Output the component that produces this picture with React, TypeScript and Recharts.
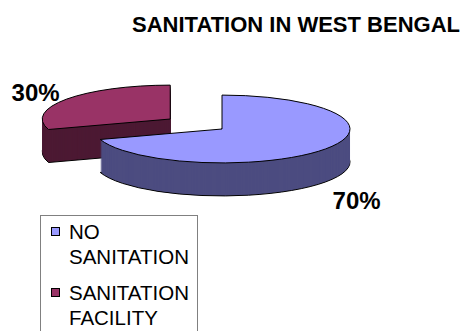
import { PieChart, Pie, Cell, Legend } from "recharts"

const categories = ["NO SANITATION", "SANITATION FACILITY"]
const shares = [70, 30]
const topColors = ["#9999FF", "#993366"]
const sideColors = ["#4C4C80", "#4C1933"]
const explode = [0, 64] // how far each slice is pulled out

const data = categories.map((name, i) => ({ name, value: shares[i] }))
const total = shares.reduce((a, b) => a + b, 0)

// fake 3D: pies are drawn round, then squashed by css, and stacked for the side wall
const SQUASH = 0.265
const RADIUS = 128
const DEPTH = 33
const CX = 222
const CY = 129 / SQUASH
const FONT = "'Liberation Sans', Arial, sans-serif"

// mid angle of every slice (recharts degrees), clockwise from 12 o'clock
let run = 0
const midAngles = shares.map((v) => {
  const start = 90 - (run / total) * 360
  run += v
  const end = 90 - (run / total) * 360
  return (start + end) / 2
})

const centerOf = (i: number) => {
  const rad = (midAngles[i] * Math.PI) / 180
  return { x: CX + explode[i] * Math.cos(rad), y: CY - explode[i] * Math.sin(rad) }
}

const renderLabel = (i: number) => (p: any) => {
  if (p.index !== i) return null
  const rad = (midAngles[i] * Math.PI) / 180
  const c = centerOf(i)
  const k = 1.3
  const x = c.x + RADIUS * k * Math.cos(rad)
  const y = (c.y - RADIUS * k * Math.sin(rad)) * SQUASH + (Math.sin(rad) < 0 ? DEPTH + 13 : -1)
  return (
    <text key={`lbl-${i}`} x={x} y={y} textAnchor="middle" dominantBaseline="central"
      style={{ fontFamily: FONT, fontWeight: "bold", fontSize: 24, fill: "#000" }}>
      {`${Math.round((shares[i] / total) * 100)}%`}
    </text>
  )
}

function LegendBox() {
  return (
    <div style={{
      boxSizing: "border-box", width: 158, height: 130, border: "1px solid #808080",
      background: "#fff", paddingLeft: 10, paddingTop: 3, fontFamily: FONT, fontSize: 20.5, lineHeight: "25px", color: "#000",
    }}>
      {categories.map((name, i) => (
        <div key={name} style={{ display: "flex", alignItems: "flex-start", marginBottom: 11 }}>
          <div style={{ width: 9, height: 9, marginTop: 8, marginRight: 9, flex: "none", boxSizing: "border-box", border: "1px solid #000", background: topColors[i] }} />
          <div style={{ width: 127 }}>{name}</div>
        </div>
      ))}
    </div>
  )
}

export default function App() {
  // red slice sits behind, so draw it first
  const order = [1, 0]
  const steps = Array.from({ length: DEPTH + 1 }, (_, k) => DEPTH - k)

  return (
    <div style={{ position: "relative", width: 465, height: 331, overflow: "hidden", background: "#fff" }}>
      <style>{`
        body { margin: 0; }
        .recharts-pie-sector { transform: scale(1, ${SQUASH}); transform-origin: 0 0; transform-box: view-box; }
        .recharts-pie-sector path { vector-effect: non-scaling-stroke; }
      `}</style>
      <PieChart width={465} height={331} margin={{ top: 0, right: 0, bottom: 0, left: 0 }}>
        {order.map((i) =>
          steps.map((d) => {
            const c = centerOf(i)
            const edge = d === 0 || d === DEPTH
            return (
              <Pie
                key={`p-${i}-${d}`}
                data={data}
                dataKey="value"
                nameKey="name"
                cx={c.x}
                cy={c.y + d / SQUASH}
                outerRadius={RADIUS}
                startAngle={90}
                endAngle={-270}
                stroke="none"
                legendType="none"
                isAnimationActive={false}
                label={d === 0 ? renderLabel(i) : false}
                labelLine={false}
              >
                {data.map((_, j) => (
                  <Cell
                    key={`c-${j}`}
                    fill={j === i ? (d === 0 ? topColors[i] : sideColors[i]) : "none"}
                    stroke={j === i && edge ? "#000" : "none"}
                    strokeWidth={1}
                  />
                ))}
              </Pie>
            )
          })
        )}
        <Legend content={() => <LegendBox />} wrapperStyle={{ position: "absolute", left: 40, top: 215, width: 158, height: 130 }} />
      </PieChart>
      <div style={{
        position: "absolute", left: 96, top: 14, width: 400, textAlign: "center",
        fontFamily: FONT, fontWeight: "bold", fontSize: 22, lineHeight: "22px", color: "#000",
      }}>
        SANITATION IN WEST BENGAL
      </div>
    </div>
  )
}
